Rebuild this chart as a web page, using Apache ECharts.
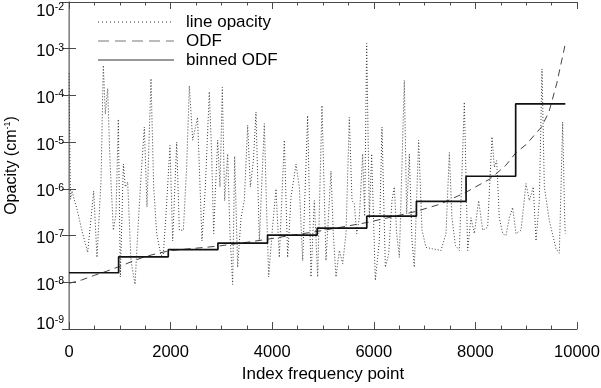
<!DOCTYPE html>
<html><head><meta charset="utf-8">
<script src="https://cdn.jsdelivr.net/npm/echarts@6/dist/echarts.min.js"></script>
<style>html,body{margin:0;padding:0;background:#fff}#c{width:601px;height:388px}</style>
</head><body><div id="c"></div>
<script>
// ---- data ----
const lineX = [0,30,60,100,150,260,368,486,551,630,676,715,761,807,873,925,971,1010,1070,1109,1155,1220,1300,1352,1417,1483,1535,1614,1667,1726,1811,1857,1910,1988,2041,2120,2172,2251,2316,2369,2435,2530,2618,2684,2762,2808,2848,2881,2927,2972,3018,3064,3123,3169,3222,3261,3320,3386,3451,3517,3570,3629,3681,3747,3845,3885,3930,3996,4075,4140,4239,4304,4370,4469,4534,4600,4698,4764,4829,4895,4980,5059,5157,5203,5256,5321,5387,5453,5518,5571,5617,5663,5715,5781,5820,5860,5912,5958,6030,6109,6161,6227,6293,6358,6404,6450,6503,6601,6647,6699,6752,6798,6883,6949,7027,7159,7323,7421,7487,7539,7605,7684,7782,7848,7913,7979,8064,8143,8241,8327,8373,8419,8471,8537,8602,8668,8733,8799,8898,8996,9062,9140,9193,9259,9311,9357,9455,9587,9652,9718,9757,9770];
const lineV = [3.0e-4,6e-7,9e-7,6e-7,4e-7,1.2e-7,4.4e-8,9e-7,3.4e-8,1.5e-6,4.4e-4,4e-5,1.4e-4,4e-6,1.3e-7,2.9e-7,3.1e-5,1.3e-8,3.4e-6,1.1e-6,1.4e-6,2.9e-8,9e-9,1.1e-7,1.8e-6,2.1e-5,4.1e-7,2.3e-4,1.1e-6,1.1e-7,3.7e-8,4e-8,2.9e-7,8.5e-6,7.7e-8,1.0e-5,1.3e-7,1.3e-7,2.9e-6,1.6e-4,1.1e-5,3.4e-5,7.7e-8,1.1e-6,1.2e-4,5.6e-6,1.1e-7,9e-7,1.1e-5,1.1e-6,1.5e-4,5.6e-7,5.6e-6,1.1e-7,9e-9,5e-6,2.1e-8,2.4e-7,5.6e-7,2.3e-5,1.1e-6,4e-6,4.4e-5,7.7e-8,2.5e-5,5.6e-7,1.3e-8,1.1e-7,1e-6,3.4e-8,1.1e-5,3.4e-8,6.6e-7,3.4e-6,1.1e-6,2.9e-8,3.7e-5,1.3e-8,5.6e-7,1.3e-8,6.1e-5,2.9e-8,2.4e-6,1.1e-7,1.3e-8,4.8e-8,2.5e-8,1.1e-7,3.4e-5,5.6e-7,4.8e-7,1.1e-7,2.4e-7,5.6e-6,2.6e-7,1.3e-3,2.4e-7,5.6e-6,1.1e-8,7.7e-8,2.1e-5,2.1e-8,4e-8,5.6e-7,1.1e-6,1.1e-7,3.4e-8,2.1e-4,2.9e-7,5.6e-6,7.7e-8,2.1e-8,1.1e-5,1.3e-7,5.6e-8,5.2e-8,4.8e-8,1.1e-7,6e-6,2.4e-7,6.2e-8,4.8e-8,7.2e-5,4.8e-8,2.4e-7,1.1e-7,5.6e-7,1.3e-7,1.5e-7,1.3e-5,2.9e-6,4e-6,2.4e-7,1.1e-7,1e-7,2.4e-7,4e-7,1.1e-7,1.3e-7,1.3e-6,5.6e-7,1.1e-6,7.7e-8,5.6e-7,3.7e-4,1.1e-6,2.1e-7,5.2e-8,4.2e-8,2.7e-5,2.4e-7,1.1e-7];
const odfX = [0,250,500,750,1000,1250,1500,1750,2000,2400,2900,3400,3900,4400,4900,5350,5860,6350,6840,7300,7800,8300,8600,8800,9000,9300,9450,9600,9680,9740,9770];
const odfV = [9.5e-9,1.12e-8,1.41e-8,1.74e-8,2.19e-8,2.82e-8,3.55e-8,4.17e-8,4.79e-8,5.25e-8,5.89e-8,6.92e-8,8.32e-8,1.02e-7,1.23e-7,1.51e-7,1.9e-7,2.5e-7,3.31e-7,4.68e-7,8.3e-7,1.66e-6,3.2e-6,6.0e-6,8.9e-6,2.1e-5,4.5e-5,1.78e-4,4.5e-4,8.9e-4,1.29e-3];
const binEdges = [0,977,1954,2931,3908,4885,5862,6839,7816,8793,9770];
const binValues = [1.6e-8,3.5e-8,5.0e-8,6.9e-8,1.02e-7,1.45e-7,2.6e-7,5.4e-7,1.86e-6,6.6e-5];
const xTickValues = [0,2000,4000,6000,8000,10000];
const yTickExponents = [-9,-8,-7,-6,-5,-4,-3,-2];
const seriesNames = ['line opacity','ODF','binned ODF'];

// ---- chart ----
const FONT = '"Liberation Sans", Arial, Helvetica, sans-serif';
const yMinExp = yTickExponents[0], yMaxExp = yTickExponents[yTickExponents.length-1];
const lineData = lineX.map((x,i)=>[x,lineV[i]]);
const odfData = odfX.map((x,i)=>[x,odfV[i]]);
const binData = binEdges.map((x,i)=>[x, binValues[Math.min(i, binValues.length-1)]]);
const AX = '#4a4a4a';
const xCommon = {
  type:'value', min:xTickValues[0], max:xTickValues[xTickValues.length-1],
  interval:xTickValues[1]-xTickValues[0],
  axisLine:{lineStyle:{color:AX,width:1}},
  axisTick:{inside:true,length:7,lineStyle:{color:AX,width:1}},
  minorTick:{show:true,splitNumber:4,length:3.5,lineStyle:{color:AX,width:1}},
  splitLine:{show:false}, minorSplitLine:{show:false}
};
const yCommon = {
  type:'log', logBase:10, min:Math.pow(10,yMinExp), max:Math.pow(10,yMaxExp), splitNumber:yTickExponents.length-1,
  axisLine:{show:true,lineStyle:{color:AX,width:1}},
  axisTick:{show:true,inside:true,length:7,lineStyle:{color:AX,width:1}},
  splitLine:{show:false}, minorTick:{show:false}
};
const B = {fontFamily:FONT,fontSize:16.5,color:'#000',lineHeight:16,verticalAlign:'middle'};
const S = {fontFamily:FONT,fontSize:10.5,color:'#000',lineHeight:16,verticalAlign:'middle'};
const chart = echarts.init(document.getElementById('c'));
chart.setOption({
  animation:false,
  backgroundColor:'#fff',
  grid:{left:69,right:24,top:2,bottom:59,containLabel:false,outerBoundsMode:'none'},
  legend:{
    orient:'vertical', left:97, top:12.5, padding:0, itemWidth:76, itemHeight:14, itemGap:0,
    formatter:function(name){ return '{g| }{n|'+name+'}'; },
    textStyle:{fontFamily:FONT,fontSize:17,color:'#000',lineHeight:19,
      rich:{g:{width:7,fontSize:17,lineHeight:19},n:{fontFamily:FONT,fontSize:17,color:'#000',lineHeight:19}}},
    data:[
      {name:seriesNames[0], itemStyle:{opacity:0}, lineStyle:{color:'#333',width:1,type:[1,3]}},
      {name:seriesNames[1], itemStyle:{opacity:0}, lineStyle:{color:'#bbb',width:2,type:[11,6]}},
      {name:seriesNames[2], itemStyle:{opacity:0}, lineStyle:{color:'#333',width:1,type:'solid'}}
    ]
  },
  xAxis:[
    Object.assign({}, xCommon, {position:'bottom',
      axisLabel:{margin:15,fontFamily:FONT,fontSize:16.5,color:'#000',showMinLabel:true,showMaxLabel:true,
        formatter:function(v){ return String(v); }},
      name:'Index frequency point', nameLocation:'middle', nameGap:31,
      nameTextStyle:{fontFamily:FONT,fontSize:17,color:'#000'}}),
    Object.assign({}, xCommon, {position:'top', axisLabel:{show:false}})
  ],
  yAxis:[
    Object.assign({}, yCommon, {position:'left',
      axisLabel:{margin:5,showMinLabel:true,showMaxLabel:true,
        formatter:function(v){
          const e = Math.round(Math.log10(v));
          const k = e===yMinExp ? 'l' : (e===yMaxExp ? 'h' : '');
          return '{b'+k+'|10}{s'+k+'|'+e+'}';
        },
        rich:{
          b:Object.assign({},B,{padding:[6,0,0,0]}),
          s:Object.assign({},S,{padding:[0,0,2,0]}),
          bl:Object.assign({},B,{padding:[0,0,9,0]}),
          sl:Object.assign({},S,{padding:[0,0,17,0]}),
          bh:Object.assign({},B,{padding:[18,0,0,0]}),
          sh:Object.assign({},S,{padding:[10,0,0,0]})
        }},
      name:'{t|Opacity (cm}{u|-1}{t|)}', nameLocation:'middle', nameGap:48,
      nameTextStyle:{rich:{
        t:{fontFamily:FONT,fontSize:16,color:'#000',lineHeight:18,verticalAlign:'middle'},
        u:{fontFamily:FONT,fontSize:9,color:'#000',lineHeight:18,verticalAlign:'middle',padding:[0,0,9,0]}
      }}}),
    Object.assign({}, yCommon, {position:'right', axisLabel:{show:false},
      axisLine:{show:true,lineStyle:{color:'#999',width:1.5}}})
  ],
  series:[
    {name:seriesNames[0], type:'line', data:lineData, symbol:'none', xAxisIndex:0, yAxisIndex:0, z:2,
     lineStyle:{color:'#3a3a3a',width:1,type:[1,2]}},
    {name:seriesNames[1], type:'line', data:odfData, symbol:'none', xAxisIndex:0, yAxisIndex:0, z:3,
     lineStyle:{color:'#444',width:1,type:[7,5]}},
    {name:seriesNames[2], type:'line', data:binData, symbol:'none', step:'end', xAxisIndex:0, yAxisIndex:0, z:4,
     lineStyle:{color:'#111',width:1.7}}
  ]
});
</script></body></html>
